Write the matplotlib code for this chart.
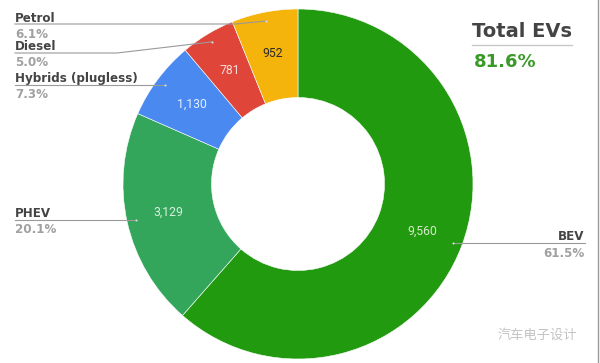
import matplotlib.pyplot as plt
import numpy as np

# data
categories = ["BEV", "PHEV", "Hybrids (plugless)", "Diesel", "Petrol"]
values = [9560, 3129, 1130, 781, 952]
value_labels = ["9,560", "3,129", "1,130", "781", "952"]
pct_labels = ["61.5%", "20.1%", "7.3%", "5.0%", "6.1%"]
colors = ["#229a10", "#33a65c", "#4a8af0", "#e0453a", "#f5b40c"]
value_colors = ["#d6ecc8", "#d8f0df", "#e4eeff", "#f8dcd8", "#2b2b2b"]
total_ev = "81.6%"

W, H = 600, 363
fig = plt.figure(figsize=(6, 3.63), dpi=100)
ax = fig.add_axes([0, 0, 1, 1])


def Y(y):
    # image coords (y down) -> axes coords
    return H - y


cx, cy = 298, Y(184)
R = 175
hole = 86.5

wedges, _ = ax.pie(values, colors=colors, startangle=90, counterclock=False,
                   center=(cx, cy), radius=R, frame=True,
                   wedgeprops=dict(width=R - hole, edgecolor="white", linewidth=0.4))
ax.set_xlim(0, W)
ax.set_ylim(0, H)
ax.set_aspect("equal")
ax.axis("off")

mids = [np.deg2rad((w.theta1 + w.theta2) / 2) for w in wedges]

# value labels inside the ring
for m, lab, col in zip(mids, value_labels, value_colors):
    r = 133
    ax.text(cx + r * np.cos(m), cy + r * np.sin(m), lab, ha="center", va="center",
            fontsize=8.8, color=col, family="Roboto")

# leader dots
dots = [(cx + 166 * np.cos(m), cy + 166 * np.sin(m)) for m in mids]
for dx, dy in dots:
    ax.plot(dx, dy, "o", ms=1.5, color="#dddddd", mec="none", zorder=5)

name_kw = dict(fontsize=8.6, fontweight="bold", color="#444444", family="DejaVu Sans")
pct_kw = dict(fontsize=8.6, fontweight="bold", color="#a0a0a0", family="DejaVu Sans")
line_kw = dict(color="#9a9a9a", lw=0.8, zorder=4)

# BEV (right side)
bx, by = dots[0]
ax.plot([bx, 585], [by, by], **line_kw)
ax.text(584, by + 3, categories[0], ha="right", va="baseline", **name_kw)
ax.text(584, by - 14, pct_labels[0], ha="right", va="baseline", **pct_kw)

# left side labels
left = 15
line_y = {1: dots[1][1], 2: dots[2][1], 3: Y(53), 4: Y(24)}
kink = {3: 117, 4: 235}
for i in [1, 2, 3, 4]:
    ly = line_y[i]
    dx, dy = dots[i]
    if i in kink:
        ax.plot([left, kink[i], dx], [ly, ly, dy], **line_kw)
    else:
        ax.plot([left, dx], [ly, ly], **line_kw)
    ax.text(left, ly + 2.5, categories[i], ha="left", va="baseline", **name_kw)
    ax.text(left, ly - 13.5, pct_labels[i], ha="left", va="baseline", **pct_kw)

# Total EVs box
ax.text(522, Y(37), "Total EVs", ha="center", va="baseline", fontsize=14,
        fontweight="bold", color="#444444", family="DejaVu Sans")
ax.plot([472, 572], [Y(45), Y(45)], color="#c8c8c8", lw=1)
ax.text(505, Y(62), total_ev, ha="center", va="center", fontsize=13,
        fontweight="bold", color="#3a9a28", family="DejaVu Sans")

# watermark
ax.text(537, Y(335), "汽车电子设计", ha="center", va="center", fontsize=9.5,
        color="#c4c4c4", family=["Noto Sans CJK SC", "DejaVu Sans"])
ax.plot([598, 598], [0, H], color="#9a9a9a", lw=1)

fig.savefig("out.png", dpi=100)
